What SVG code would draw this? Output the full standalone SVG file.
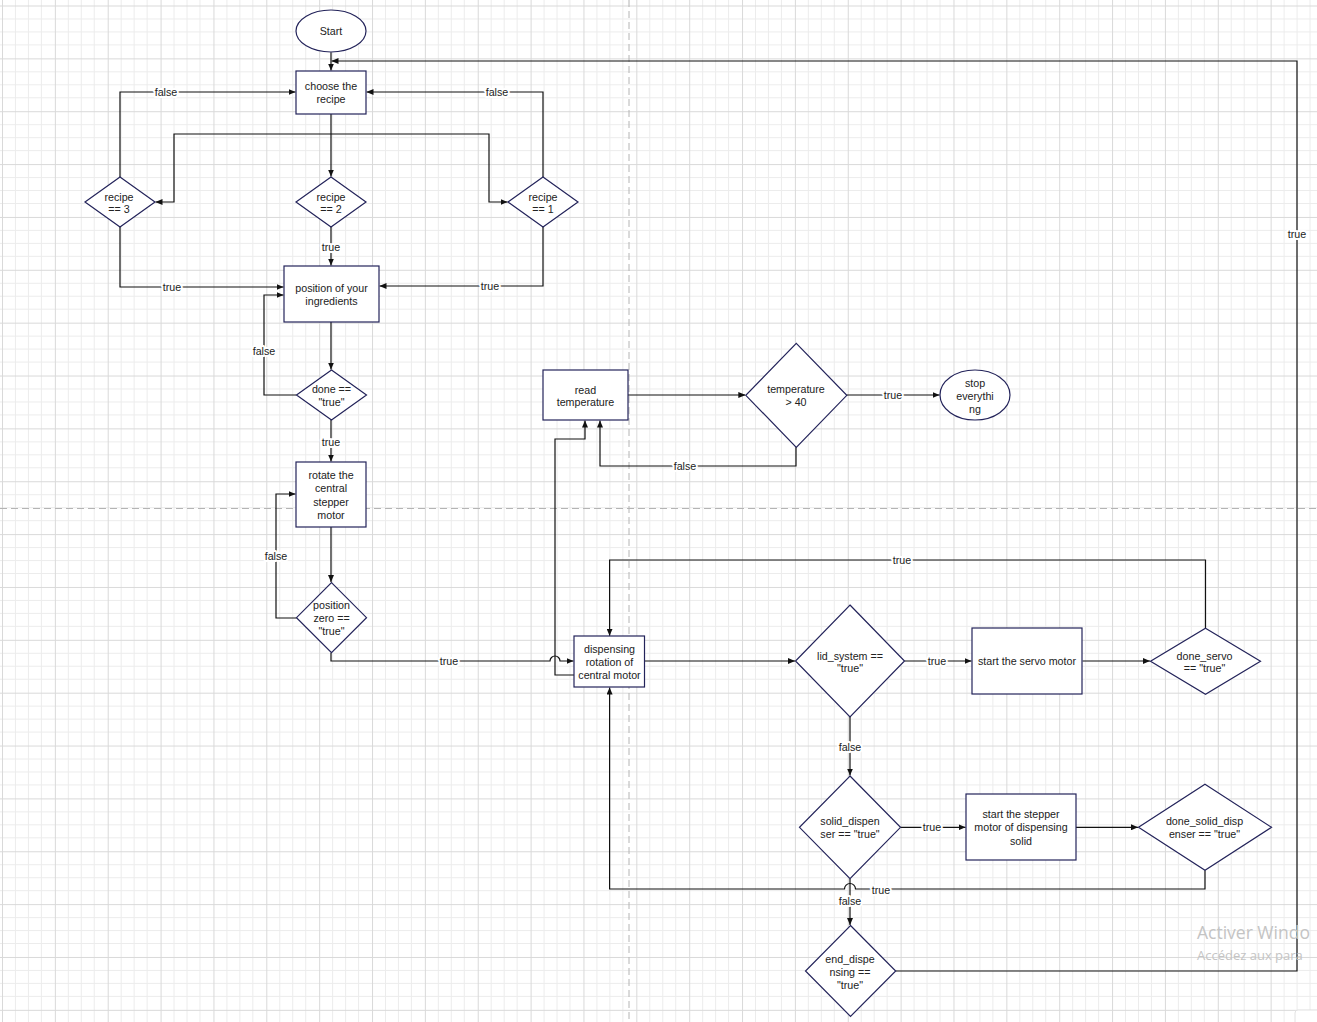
<svg xmlns="http://www.w3.org/2000/svg" width="1317" height="1022" viewBox="0 0 1317 1022">
<style>
.node{fill:#fff;stroke:#23235a;stroke-width:1.2}
.t{font-family:"Liberation Sans",Arial,sans-serif;font-size:10.7px;fill:#222;text-anchor:middle}
.c{fill:none;stroke:#111;stroke-width:1.2}
.a{marker-end:url(#arr)}
.lbl{font-family:"Liberation Sans",Arial,sans-serif;font-size:10.7px;fill:#222;text-anchor:middle;stroke:#fff;stroke-width:4;paint-order:stroke;stroke-linejoin:round}
.pg{stroke:#b4b4b4;stroke-width:1;stroke-dasharray:7 4;fill:none}
.wm{font-family:"Open Sans","Noto Sans",sans-serif;fill:#c4c4c4}
</style>
<defs>
<pattern id="grid" x="2" y="5.5" width="52.86" height="52.86" patternUnits="userSpaceOnUse">
<g shape-rendering="crispEdges" stroke-width="1">
<path d="M13.215 0V52.86M26.43 0V52.86M39.645 0V52.86M0 13.215H52.86M0 26.43H52.86M0 39.645H52.86" stroke="#ececec"/>
<path d="M0 0V52.86M0 0H52.86" stroke="#d9d9d9"/>
</g>
</pattern>
<marker id="arr" markerWidth="7" markerHeight="6" refX="7" refY="3" orient="auto" markerUnits="userSpaceOnUse">
<path d="M0,0 L7,3 L0,6 z" fill="#111"/>
</marker>
</defs>
<rect width="1317" height="1022" fill="#fff"/>
<rect width="1317" height="1022" fill="url(#grid)"/>
<path class="pg" d="M629 0V1022M0 508.5H1317"/>

<g id="connectors">
<path class="c a" d="M331 52.3V70.5"/>
<path class="c a" d="M896 971H1297V61H331.5"/>
<path class="c a" d="M120 177V92H295.5"/>
<path class="c a" d="M543 177V92H366.5"/>
<path class="c a" d="M331 114V176.5"/>
<path class="c a" d="M331 134H174V202H155.5"/>
<path class="c a" d="M331 134H489V202H507.5"/>
<path class="c a" d="M331 227V265.5"/>
<path class="c a" d="M120 227V287H283.5"/>
<path class="c a" d="M543 227V286H379.5"/>
<path class="c a" d="M331 322V369.5"/>
<path class="c a" d="M296.5 395H264V295H283.5"/>
<path class="c a" d="M331 420V461.5"/>
<path class="c a" d="M331 527V582"/>
<path class="c a" d="M296.5 618H276V494H295.5"/>
<path class="c a" d="M331 652.7V661H550A5 5 0 0 1 560 661H573.5"/>
<path class="c a" d="M574 675H555V439H585V420.5"/>
<path class="c a" d="M628 395H745.3"/>
<path class="c a" d="M847 395H939.5"/>
<path class="c a" d="M796 447.3V466H600V420.5"/>
<path class="c a" d="M644.5 661H795"/>
<path class="c a" d="M904.5 661H971.5"/>
<path class="c a" d="M1082.5 661H1150"/>
<path class="c a" d="M1205.5 628.3V560H609.6V635.8"/>
<path class="c a" d="M850 717V775.5"/>
<path class="c a" d="M900.5 827.3H965.5"/>
<path class="c a" d="M1076 827.3H1138"/>
<path class="c a" d="M1205 870.3V889H855.5A5.5 5.5 0 0 0 844.5 889H609.6V687.5"/>
<path class="c a" d="M850 878.7V925"/>
<text class="lbl" x="166" y="95.8">false</text>
<text class="lbl" x="497" y="95.8">false</text>
<text class="lbl" x="331" y="250.8">true</text>
<text class="lbl" x="172" y="290.8">true</text>
<text class="lbl" x="490" y="289.8">true</text>
<text class="lbl" x="264" y="354.8">false</text>
<text class="lbl" x="331" y="445.8">true</text>
<text class="lbl" x="276" y="559.8">false</text>
<text class="lbl" x="449" y="664.8">true</text>
<text class="lbl" x="685" y="469.8">false</text>
<text class="lbl" x="893" y="398.8">true</text>
<text class="lbl" x="902" y="563.8">true</text>
<text class="lbl" x="937" y="664.8">true</text>
<text class="lbl" x="850" y="750.8">false</text>
<text class="lbl" x="932" y="831">true</text>
<text class="lbl" x="881" y="893.8">true</text>
<text class="lbl" x="850" y="904.8">false</text>
<text class="lbl" x="1297" y="238">true</text>
</g>

<g id="start"><ellipse class="node" cx="331" cy="31" rx="35" ry="21"/><text class="t" x="331" y="34.8">Start</text></g>
<g id="choose"><rect class="node" x="296" y="71" width="70" height="43"/><text class="t"><tspan x="331" y="89.8">choose the</tspan><tspan x="331" y="103.1">recipe</tspan></text></g>
<g id="recipe3"><path class="node" d="M120 177L155 202L120 227L85 202Z"/><text class="t"><tspan x="119" y="200.5">recipe</tspan><tspan x="119" y="213.1">== 3</tspan></text></g>
<g id="recipe2"><path class="node" d="M331 177L366 202L331 227L296 202Z"/><text class="t"><tspan x="331" y="200.5">recipe</tspan><tspan x="331" y="213.1">== 2</tspan></text></g>
<g id="recipe1"><path class="node" d="M543 177L578 202L543 227L508 202Z"/><text class="t"><tspan x="543" y="200.5">recipe</tspan><tspan x="543" y="213.1">== 1</tspan></text></g>
<g id="position"><rect class="node" x="284" y="266" width="95" height="56"/><text class="t"><tspan x="331.5" y="292.1">position of your</tspan><tspan x="331.5" y="304.8">ingredients</tspan></text></g>
<g id="done"><path class="node" d="M331.5 370L366.5 395L331.5 420L296.5 395Z"/><text class="t"><tspan x="331.5" y="393.1">done ==</tspan><tspan x="331.5" y="405.8">"true"</tspan></text></g>
<g id="rotate"><rect class="node" x="296" y="462" width="70" height="65"/><text class="t"><tspan x="331" y="479.1">rotate the</tspan><tspan x="331" y="492.4">central</tspan><tspan x="331" y="505.7">stepper</tspan><tspan x="331" y="519">motor</tspan></text></g>
<g id="poszero"><path class="node" d="M331.5 582.7L366.5 617.7L331.5 652.7L296.5 617.7Z"/><text class="t"><tspan x="331.5" y="608.7">position</tspan><tspan x="331.5" y="622">zero ==</tspan><tspan x="331.5" y="635.3">"true"</tspan></text></g>
<g id="dispensing"><rect class="node" x="574" y="636" width="70.5" height="51"/><text class="t"><tspan x="609.5" y="652.5">dispensing</tspan><tspan x="609.5" y="665.8">rotation of</tspan><tspan x="609.5" y="679.1">central motor</tspan></text></g>
<g id="readtemp"><rect class="node" x="543" y="370" width="85" height="50"/><text class="t"><tspan x="585.5" y="393.5">read</tspan><tspan x="585.5" y="405.8">temperature</tspan></text></g>
<g id="temp"><path class="node" d="M796.3 343.3L846.8 395.3L796.3 447.3L745.8 395.3Z"/><text class="t"><tspan x="796" y="393.1">temperature</tspan><tspan x="796" y="406.1">&gt; 40</tspan></text></g>
<g id="stop"><ellipse class="node" cx="975" cy="395" rx="35" ry="25"/><text class="t"><tspan x="975" y="386.5">stop</tspan><tspan x="975" y="399.8">everythi</tspan><tspan x="975" y="413.1">ng</tspan></text></g>
<g id="lid"><path class="node" d="M850 605L904.5 661L850 717L795.5 661Z"/><text class="t"><tspan x="850" y="659.5">lid_system ==</tspan><tspan x="850" y="672.1">"true"</tspan></text></g>
<g id="servo"><rect class="node" x="972" y="628" width="110" height="66"/><text class="t" x="1027" y="665.1">start the servo motor</text></g>
<g id="doneservo"><path class="node" d="M1205.5 628.3L1260.5 661.3L1205.5 694.3L1150.5 661.3Z"/><text class="t"><tspan x="1204.5" y="659.5">done_servo</tspan><tspan x="1204.5" y="672.1">== "true"</tspan></text></g>
<g id="solid"><path class="node" d="M850 776L900.5 827.3L850 878.7L799.5 827.3Z"/><text class="t"><tspan x="850" y="825.1">solid_dispen</tspan><tspan x="850" y="838.1">ser == "true"</tspan></text></g>
<g id="stepper"><rect class="node" x="966" y="794" width="110" height="66"/><text class="t"><tspan x="1021" y="818.1">start the stepper</tspan><tspan x="1021" y="831.4">motor of dispensing</tspan><tspan x="1021" y="844.7">solid</tspan></text></g>
<g id="donesolid"><path class="node" d="M1205 784.3L1271.5 827.3L1205 870.3L1138.5 827.3Z"/><text class="t"><tspan x="1204.5" y="825.1">done_solid_disp</tspan><tspan x="1204.5" y="838.1">enser == "true"</tspan></text></g>
<g id="enddisp"><path class="node" d="M850.5 925.5L895.7 971L850.5 1016.5L805.5 971Z"/><text class="t"><tspan x="850" y="962.5">end_dispe</tspan><tspan x="850" y="975.5">nsing ==</tspan><tspan x="850" y="988.8">"true"</tspan></text></g>

<text class="wm" x="1197" y="939" font-size="17.5">Activer Windo</text>
<text class="wm" x="1197" y="960" font-size="13">Accédez aux para</text>
<rect x="1295" y="1010" width="30" height="20" rx="3" fill="#fff" stroke="#e2e2e2"/>
</svg>
